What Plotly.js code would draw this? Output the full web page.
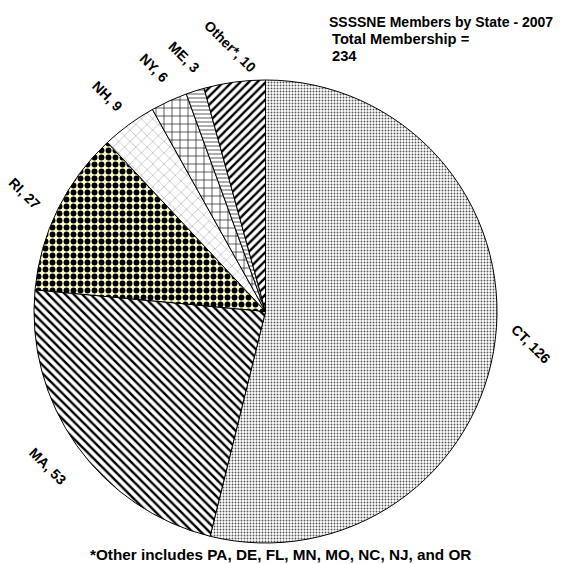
<!DOCTYPE html>
<html>
<head>
<meta charset="utf-8">
<script src="https://cdn.plot.ly/plotly-3.0.1.min.js"></script>
<style>html,body{margin:0;padding:0;background:#fff;}#chart{width:565px;height:564px;}</style>
</head>
<body>
<div id="chart"></div>
<script>
var states = ["CT", "MA", "RI", "NH", "NY", "ME", "Other*"];
var members = [126, 53, 27, 9, 6, 3, 10];
var titleText = "SSSSNE Members by State - 2007";
var totalLabel = "Total Membership =";
var footnote = "*Other includes PA, DE, FL, MN, MO, NC, NJ, and OR";

var W = 565, H = 564;
var domX = [33 / W, 498 / W];
var domY = [1 - 543 / H, 1 - 80 / H];

var patterns = [
  {shape: ".", fgcolor: "#555555", bgcolor: "#ffffff", size: 3, solidity: 0.3},
  {shape: "\\", fgcolor: "#000000", bgcolor: "#ffffff", size: 6, solidity: 0.4},
  {shape: ".", fgcolor: "#000000", bgcolor: "#ffffcc", size: 7, solidity: 0.55},
  {shape: "x", fgcolor: "#9a9a9a", bgcolor: "#ffffff", size: 8, solidity: 0.12},
  {shape: "+", fgcolor: "#000000", bgcolor: "#ffffff", size: 8, solidity: 0.15},
  {shape: "-", fgcolor: "#8a8a8a", bgcolor: "#ffffff", size: 4, solidity: 0.35},
  {shape: "/", fgcolor: "#000000", bgcolor: "#ffffff", size: 6, solidity: 0.4}
];

var trace = {
  type: "pie",
  labels: states,
  values: members,
  sort: false,
  direction: "clockwise",
  rotation: 0,
  textinfo: "none",
  hoverinfo: "skip",
  showlegend: false,
  domain: {x: domX, y: domY},
  marker: {
    colors: patterns.map(function (p) { return p.bgcolor; }),
    line: {color: "#000000", width: 1},
    pattern: {
      shape: patterns.map(function (p) { return p.shape; }),
      fgcolor: patterns.map(function (p) { return p.fgcolor; }),
      bgcolor: patterns.map(function (p) { return p.bgcolor; }),
      size: patterns.map(function (p) { return p.size; }),
      solidity: patterns.map(function (p) { return p.solidity; }),
      fillmode: "replace"
    }
  }
};

// label annotations placed from slice mid-angles
var total = members.reduce(function (a, b) { return a + b; }, 0);
var cxPx = (domX[0] + domX[1]) / 2 * W;
var cyPx = (1 - (domY[0] + domY[1]) / 2) * H;
var R = Math.min((domX[1] - domX[0]) * W, (domY[1] - domY[0]) * H) / 2;
var labelR = R + 36;
var annotations = [];
var cum = 0;
var labelFont = {family: "Liberation Sans, Arial, sans-serif", size: 14, color: "#000"};
for (var i = 0; i < members.length; i++) {
  var mid = (cum + members[i] / 2) / total * 2 * Math.PI;
  cum += members[i];
  var px = cxPx + labelR * Math.sin(mid);
  var py = cyPx - labelR * Math.cos(mid);
  annotations.push({
    xref: "paper", yref: "paper", x: px / W, y: 1 - py / H,
    xanchor: "center", yanchor: "middle", showarrow: false,
    text: "<b>" + states[i] + ", " + members[i] + "</b>",
    textangle: 45, font: labelFont
  });
}
annotations.push({
  xref: "paper", yref: "paper", x: 327 / W, y: 1 - 22 / H,
  xanchor: "left", yanchor: "middle", showarrow: false,
  text: "<b>" + titleText + "</b>",
  font: {family: "Liberation Sans, Arial, sans-serif", size: 14, color: "#000"}
});
annotations.push({
  xref: "paper", yref: "paper", x: 330 / W, y: 1 - 39 / H,
  xanchor: "left", yanchor: "middle", showarrow: false,
  text: "<b>" + totalLabel + "</b>",
  font: {family: "Liberation Sans, Arial, sans-serif", size: 14.7, color: "#000"}
});
annotations.push({
  xref: "paper", yref: "paper", x: 330 / W, y: 1 - 55.5 / H,
  xanchor: "left", yanchor: "middle", showarrow: false,
  text: "<b>" + total + "</b>",
  font: {family: "Liberation Sans, Arial, sans-serif", size: 14.7, color: "#000"}
});
annotations.push({
  xref: "paper", yref: "paper", x: 280 / W, y: 1 - 554 / H,
  xanchor: "center", yanchor: "middle", showarrow: false,
  text: "<b>" + footnote + "</b>",
  font: {family: "Liberation Sans, Arial, sans-serif", size: 15.3, color: "#000"}
});

var layout = {
  width: W, height: H,
  margin: {l: 0, r: 0, t: 0, b: 0},
  paper_bgcolor: "#ffffff",
  plot_bgcolor: "#ffffff",
  showlegend: false,
  annotations: annotations
};

Plotly.newPlot("chart", [trace], layout, {displayModeBar: false, staticPlot: true});
</script>
</body>
</html>
